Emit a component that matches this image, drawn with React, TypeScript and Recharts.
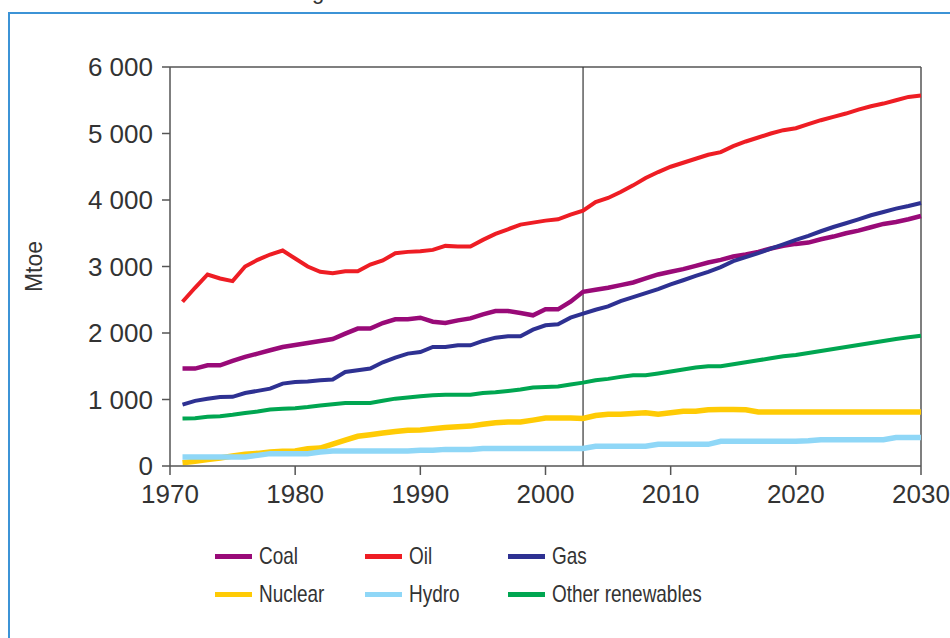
import {
  LineChart, Line, XAxis, YAxis, Legend, ReferenceLine, Label,
} from 'recharts';

/* eslint-disable @typescript-eslint/no-explicit-any */

const years = [
  1971, 1972, 1973, 1974, 1975, 1976, 1977, 1978, 1979, 1980,
  1981, 1982, 1983, 1984, 1985, 1986, 1987, 1988, 1989, 1990,
  1991, 1992, 1993, 1994, 1995, 1996, 1997, 1998, 1999, 2000,
  2001, 2002, 2003, 2004, 2005, 2006, 2007, 2008, 2009, 2010,
  2011, 2012, 2013, 2014, 2015, 2016, 2017, 2018, 2019, 2020,
  2021, 2022, 2023, 2024, 2025, 2026, 2027, 2028, 2029, 2030,
];

const coal = [
  1465, 1465, 1515, 1515, 1580, 1640, 1690, 1740, 1790, 1820,
  1850, 1880, 1910, 1990, 2066, 2066, 2150, 2206, 2206, 2230,
  2170, 2150, 2190, 2220, 2280, 2330, 2330, 2300, 2266, 2356,
  2356, 2470, 2620, 2650, 2680, 2720, 2760, 2820, 2880, 2920,
  2960, 3010, 3060, 3100, 3150, 3180, 3220, 3270, 3310, 3340,
  3360, 3410, 3450, 3500, 3540, 3590, 3640, 3670, 3710, 3760,
];

const oil = [
  2470, 2680, 2880, 2820, 2780, 3000, 3100, 3180, 3240, 3120,
  3000, 2920, 2900, 2930, 2930, 3030, 3090, 3200, 3220, 3230,
  3250, 3310, 3300, 3300, 3400, 3490, 3560, 3630, 3660, 3690,
  3710, 3780, 3840, 3970, 4030, 4120, 4220, 4330, 4420, 4500,
  4560, 4620, 4680, 4720, 4810, 4880, 4940, 5000, 5050, 5080,
  5140, 5200, 5250, 5300, 5360, 5410, 5450, 5500, 5550, 5570,
];

const gas = [
  923, 980, 1010, 1038, 1040, 1098, 1130, 1164, 1239, 1263,
  1270, 1290, 1300, 1414, 1440, 1465, 1560, 1630, 1690, 1714,
  1790, 1790, 1815, 1815, 1880, 1930, 1950, 1950, 2050, 2116,
  2130, 2230, 2290, 2350, 2400, 2480, 2540, 2600, 2660, 2730,
  2793, 2860, 2920, 2990, 3080, 3140, 3200, 3270, 3334, 3400,
  3460, 3530, 3594, 3650, 3710, 3770, 3820, 3870, 3910, 3955,
];

const nuclear = [
  50, 70, 96, 120, 150, 176, 190, 210, 220, 226,
  260, 270, 330, 390, 447, 470, 497, 520, 537, 540,
  560, 580, 590, 600, 627, 650, 661, 661, 690, 720,
  722, 720, 715, 760, 777, 777, 790, 802, 777, 800,
  822, 822, 845, 848, 848, 845, 812, 812, 812, 812,
  812, 812, 812, 812, 812, 812, 812, 812, 812, 812,
];

const hydro = [
  135, 135, 135, 135, 135, 135, 160, 186, 186, 186,
  186, 210, 226, 226, 226, 226, 226, 226, 226, 236,
  236, 250, 250, 250, 262, 262, 262, 262, 262, 262,
  262, 262, 262, 296, 296, 296, 296, 296, 326, 326,
  326, 326, 326, 371, 371, 371, 371, 371, 371, 371,
  380, 396, 396, 396, 396, 396, 396, 427, 427, 427,
];

const renewables = [
  713, 718, 740, 748, 770, 797, 820, 848, 860, 870,
  887, 910, 930, 947, 947, 947, 980, 1013, 1030, 1050,
  1063, 1070, 1070, 1070, 1098, 1110, 1128, 1150, 1179, 1188,
  1195, 1225, 1254, 1289, 1310, 1340, 1364, 1364, 1390, 1420,
  1450, 1480, 1499, 1500, 1530, 1560, 1590, 1620, 1650, 1670,
  1700, 1730, 1760, 1790, 1820, 1850, 1880, 1910, 1935, 1960,
];

const xTicks = [1970, 1980, 1990, 2000, 2010, 2020, 2030];
const yTicks = [0, 1000, 2000, 3000, 4000, 5000, 6000];

const series = [
  { key: 'coal', name: 'Coal', color: '#990a78', width: 4.5 },
  { key: 'oil', name: 'Oil', color: '#ee1d24', width: 4 },
  { key: 'gas', name: 'Gas', color: '#2e3192', width: 4 },
  { key: 'nuclear', name: 'Nuclear', color: '#ffcb05', width: 5.5 },
  { key: 'hydro', name: 'Hydro', color: '#8fd7f7', width: 5.5 },
  { key: 'renewables', name: 'Other renewables', color: '#00a651', width: 4 },
];

const data = years.map((year, i) => ({
  year,
  coal: coal[i],
  oil: oil[i],
  gas: gas[i],
  nuclear: nuclear[i],
  hydro: hydro[i],
  renewables: renewables[i],
}));

const font = '"Liberation Sans", Arial, sans-serif';
const axisColor = '#555';

const fmt = (v: number) => (v >= 1000 ? `${Math.floor(v / 1000)} ${String(v % 1000).padStart(3, '0')}` : String(v));

function LegendBox({ payload }: any) {
  const items = series.map((s) => payload?.find((p: any) => p.dataKey === s.key) ?? { value: s.name, color: s.color });
  return (
    <div style={{ display: 'grid', gridTemplateColumns: '150px 143px 220px', rowGap: 12, fontFamily: font }}>
      {items.map((p: any, i: number) => (
        <div key={i} style={{ display: 'flex', alignItems: 'center', height: 26, whiteSpace: 'nowrap' }}>
          <span style={{ width: 37, height: 5, background: p.color, display: 'inline-block', marginRight: 7, flexShrink: 0 }} />
          <span style={{ fontSize: 24, color: '#333', transform: 'scaleX(0.79)', transformOrigin: 'left', display: 'inline-block' }}>{p.value}</span>
        </div>
      ))}
    </div>
  );
}

function MtoeLabel({ viewBox }: any) {
  const cy = viewBox.y + viewBox.height / 2;
  return (
    <text x={34} y={cy} transform={`rotate(-90 34 ${cy})`} textAnchor="middle" dominantBaseline="central"
      style={{ fontSize: 23, fill: '#333', fontFamily: font }}>
      Mtoe
    </text>
  );
}

export default function App() {
  return (
    <div style={{ position: 'absolute', left: 0, top: 0, width: 950, height: 638, overflow: 'hidden', background: '#fff' }}>
      <div style={{ position: 'absolute', left: 312, top: -21, fontFamily: font, fontSize: 22, lineHeight: '26px', color: '#333' }}>g</div>
      <div style={{ position: 'absolute', left: 8, top: 12, width: 960, height: 660, border: '2px solid #3c93d6' }} />
      <div style={{ position: 'absolute', left: 0, top: 0 }}>
        <LineChart width={950} height={638} data={data} margin={{ top: 67, right: 29, left: 0, bottom: 132 }}>
          <XAxis
            dataKey="year"
            type="number"
            domain={[1970, 2030]}
            ticks={xTicks}
            height={40}
            tickSize={9}
            tickMargin={10}
            stroke={axisColor}
            strokeWidth={1.5}
            tick={{ fontSize: 26, fill: '#333', fontFamily: font }}
          />
          <YAxis
            type="number"
            domain={[0, 6000]}
            ticks={yTicks}
            width={170}
            tickSize={8}
            tickMargin={9}
            stroke={axisColor}
            strokeWidth={1.5}
            tickFormatter={fmt}
            tick={{ fontSize: 26, fill: '#333', fontFamily: font }}
          >
            <Label content={<MtoeLabel />} />
          </YAxis>
          <ReferenceLine y={6000} stroke={axisColor} strokeWidth={1.5} />
          <ReferenceLine x={2030} stroke={axisColor} strokeWidth={1.5} />
          <ReferenceLine x={2003} stroke="#333" strokeWidth={1.2} />
          {series.map((s) => (
            <Line
              key={s.key}
              dataKey={s.key}
              name={s.name}
              stroke={s.color}
              strokeWidth={s.width}
              dot={false}
              type="linear"
              isAnimationActive={false}
            />
          ))}
          <Legend
            layout="vertical"
            align="center"
            verticalAlign="middle"
            content={<LegendBox />}
            wrapperStyle={{ left: 215, top: 543, width: 560 }}
          />
        </LineChart>
      </div>
    </div>
  );
}
